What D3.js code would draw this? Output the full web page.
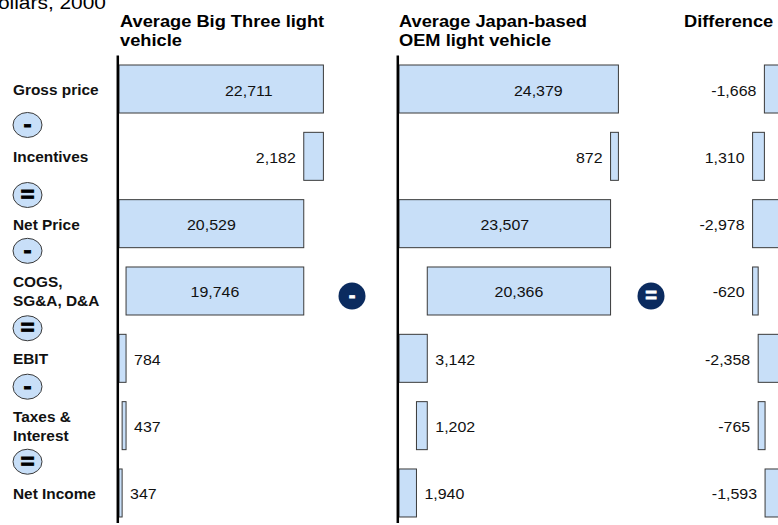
<!DOCTYPE html>
<html>
<head>
<meta charset="utf-8">
<script src="https://d3js.org/d3.v7.min.js"></script>
<style>
body{margin:0;background:#fff;overflow:hidden;}
svg{display:block;font-family:Arial,"Liberation Sans",sans-serif;}
</style>
</head>
<body>
<script>
// data
var categories = ["Gross price", "Incentives", "Net Price", "COGS,\nSG&A, D&A", "EBIT", "Taxes &\nInterest", "Net Income"];
var bigThree   = [22711, 2182, 20529, 19746, 784, 437, 347];
var japanOEM   = [24379, 872, 23507, 20366, 3142, 1202, 1940];
var difference = [-1668, 1310, -2978, -620, -2358, -765, -1593];
var operators  = ["-", "=", "-", "=", "-", "="];
var titleBig   = ["Average Big Three light", "vehicle"];
var titleJapan = ["Average Japan-based", "OEM light vehicle"];
var titleDiff  = ["Difference"];
var unitLabel  = "Dollars, 2000";

var width = 778, height = 525;
var sx = 1.1; // reference is slightly stretched horizontally
var fill = "#c8dff8", edge = "#3a3a3a", navy = "#0b2b5f";

var svg = d3.select("body").append("svg")
    .attr("width", width).attr("height", height);

var fmt = d3.formatLocale({decimal: ".", thousands: ",", grouping: [3], currency: ["$", ""], minus: "-"}).format(",");

function stretch(sel, x, y){
    sel.attr("transform", "translate(" + x + "," + y + ") scale(" + sx + ",1)");
    return sel;
}

var y = d3.scaleBand().domain(d3.range(categories.length))
    .range([55.34, 526.65]).paddingInner(0.287).paddingOuter(0.1435);
function rowMid(i){ return y(i) + y.bandwidth() / 2; }

// waterfall spans: totals from zero, "-" steps hang from the previous total
function spans(vals){
    var run = 0;
    return vals.map(function(v, i){
        if(i == 0 || operators[i-1] == "="){
            run = v;
            return {i: i, v: v, lo: Math.min(0, v), hi: Math.max(0, v)};
        }
        var a = run, b = run - v;
        return {i: i, v: v, lo: Math.min(a, b), hi: Math.max(a, b)};
    });
}

var panels = [
    {title: titleBig,   vals: bigThree,   zero: 119,   tx: 120},
    {title: titleJapan, vals: japanOEM,   zero: 399,   tx: 399},
    {title: titleDiff,  vals: difference, zero: 779.4, tx: 684}
];

// unit label, cut off at the top-left like the original
stretch(svg.append("text"), 106, 8.5)
    .attr("text-anchor", "end").attr("font-size", 19).attr("fill", "#000")
    .text(unitLabel);

panels.forEach(function(p, pi){
    var x = d3.scaleLinear().domain([0, 25000]).range([p.zero, p.zero + 225]);
    var g = svg.append("g");

    var t = stretch(g.append("text"), p.tx, 26.5)
        .attr("font-size", 16.6).attr("font-weight", "bold");
    t.selectAll("tspan").data(p.title).enter().append("tspan")
        .attr("x", 0).attr("dy", function(d, j){ return j ? 20 : 0; })
        .text(function(d){ return d; });

    var data = spans(p.vals);
    g.selectAll(".bar").data(data).enter().append("rect")
        .attr("class", "bar")
        .attr("x", function(d){ return x(d.lo); })
        .attr("y", function(d){ return y(d.i); })
        .attr("width", function(d){ return x(d.hi) - x(d.lo); })
        .attr("height", y.bandwidth())
        .attr("fill", fill).attr("stroke", edge).attr("stroke-width", 1);

    if(pi < 2){
        g.append("line")
            .attr("x1", p.zero - 1.2).attr("x2", p.zero - 1.2)
            .attr("y1", 55.5).attr("y2", 523)
            .attr("stroke", "#000").attr("stroke-width", 2.5);
    }

    g.selectAll(".val").data(data).enter().append("text")
        .attr("class", "val")
        .attr("font-size", 14.5).attr("fill", "#111")
        .each(function(d){
            var w = x(d.hi) - x(d.lo), mid = (d.lo + d.hi) / 2, tx, anchor;
            if(w > 60){
                tx = x(d.lo) + w * (d.i == 0 ? 0.635 : 0.5); anchor = "middle";
            } else if(mid < 0 || mid > 12500){
                tx = x(d.lo) - 8; anchor = "end";
            } else {
                tx = x(d.hi) + 8; anchor = "start";
            }
            stretch(d3.select(this), tx, rowMid(d.i) + 6.5)
                .attr("text-anchor", anchor).text(fmt(d.v));
        });
});

// row labels
svg.selectAll(".cat").data(categories).enter().append("text")
    .attr("class", "cat")
    .attr("font-size", 14).attr("font-weight", "bold").attr("fill", "#111")
    .each(function(d, i){
        var lines = d.split("\n");
        var base = rowMid(i) + 6 - (lines.length - 1) * 9.5;
        var t = stretch(d3.select(this), 13, base);
        t.selectAll("tspan").data(lines).enter().append("tspan")
            .attr("x", 0).attr("dy", function(l, j){ return j ? 19 : 0; })
            .text(function(l){ return l; });
    });

// operator bubbles between rows
var nudge = [2.3, 5, -6.5, 3.6, -5.3, 2.4];
var ops = svg.selectAll(".op").data(operators).enter().append("g")
    .attr("class", "op")
    .attr("transform", function(d, i){
        return "translate(27.5," + ((rowMid(i) + rowMid(i + 1)) / 2 + nudge[i]) + ")";
    });
ops.append("ellipse").attr("rx", 14.5).attr("ry", 12.5)
    .attr("fill", fill).attr("stroke", edge).attr("stroke-width", 1);
ops.append("text")
    .attr("text-anchor", "middle").attr("font-size", 22).attr("font-weight", "bold")
    .attr("dy", function(d){ return d == "-" ? "0.28em" : "0.31em"; })
    .attr("stroke", "#000").attr("stroke-width", 0.8)
    .attr("transform", "scale(" + sx + ",1)")
    .text(function(d){ return d; });

// dark operators between the panels, on the cost row
var between = [{op: "-", cx: 352}, {op: "=", cx: 651}];
var dk = svg.selectAll(".dark").data(between).enter().append("g")
    .attr("class", "dark")
    .attr("transform", function(d){ return "translate(" + d.cx + "," + (rowMid(3) + 5) + ")"; });
dk.append("circle").attr("r", 13.5).attr("fill", navy);
dk.append("text")
    .attr("text-anchor", "middle").attr("font-size", 20).attr("font-weight", "bold")
    .attr("fill", "#fff").attr("stroke", "#fff").attr("stroke-width", 0.8)
    .attr("dy", function(d){ return d.op == "-" ? "0.28em" : "0.31em"; })
    .text(function(d){ return d.op; });
</script>
</body>
</html>
